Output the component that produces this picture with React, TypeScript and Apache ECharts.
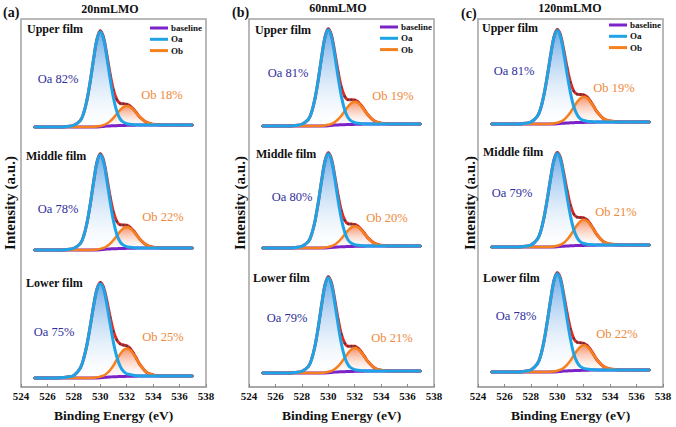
import React, { useEffect, useRef } from "react";
import * as echarts from "echarts";

// ---------- data ----------
const energy = [525, 526, 527, 527.5, 528, 528.5, 528.75, 529, 529.25, 529.5, 529.75, 530, 530.25, 530.5, 530.75, 531, 531.25, 531.5, 531.75, 532, 532.25, 532.5, 532.75, 533, 533.5, 534, 534.5, 535, 536, 537];

const panelTitles = ["20nmLMO", "60nmLMO", "120nmLMO"];
const panelTags = ["(a)", "(b)", "(c)"];
const filmNames = ["Upper film", "Middle film", "Lower film"];
const legendNames = ["baseline", "Oa", "Ob"];
const oaPercent = [[82, 78, 75], [81, 80, 79], [81, 79, 78]];
const obPercent = [[18, 22, 25], [19, 20, 21], [19, 21, 22]];

// component heights above background (envelope peak ≈ 100)
const aUpperOa = [0, 0, 0, 0.6, 1.8, 6.9, 14.7, 28.4, 48, 70.6, 90.2, 98, 90.2, 70.6, 48, 28.4, 14.7, 6.9, 3.4, 1.8, 1, 0.6, 0.3, 0, 0, 0, 0, 0, 0, 0];
const aUpperOb = [0, 0, 0, 0, 0, 0, 0, 0, 0, 0.2, 0.4, 0.8, 1.3, 2.7, 5, 8.2, 12.2, 16, 18.9, 20, 18.9, 16, 12.2, 8.2, 2.7, 0.8, 0.2, 0, 0, 0];
const aMiddleOa = [0, 0, 0, 0.6, 1.8, 6.9, 14.7, 28.4, 48, 70.6, 90.2, 98, 90.2, 70.6, 48, 28.4, 14.7, 6.9, 3.4, 1.8, 1, 0.6, 0.3, 0, 0, 0, 0, 0, 0, 0];
const aMiddleOb = [0, 0, 0, 0, 0, 0, 0, 0, 0, 0.2, 0.4, 0.9, 1.5, 3, 5.5, 9, 13.4, 17.6, 20.8, 22, 20.8, 17.6, 13.4, 9, 3, 0.9, 0.2, 0, 0, 0];
const aLowerOa = [0, 0, 0.2, 1, 2.7, 10.8, 20.6, 35.3, 54.9, 75.5, 92.1, 98, 92.1, 75.5, 54.9, 35.3, 20.6, 10.8, 5.4, 2.7, 1.8, 1, 0.5, 0, 0, 0, 0, 0, 0, 0];
const aLowerOb = [0, 0, 0, 0, 0, 0, 0, 0, 0, 0.3, 0.6, 1.2, 1.9, 3.9, 7.3, 11.9, 17.7, 23.2, 27.4, 29, 27.4, 23.2, 17.7, 11.9, 3.9, 1.2, 0.3, 0, 0, 0];
const bUpperOa = [0, 0, 0, 0.6, 1.8, 6.9, 14.7, 28.4, 48, 70.6, 90.2, 98, 90.2, 70.6, 48, 28.4, 14.7, 6.9, 3.4, 1.8, 1, 0.6, 0.3, 0, 0, 0, 0, 0, 0, 0];
const bUpperOb = [0, 0, 0, 0, 0, 0, 0, 0, 0, 0.2, 0.5, 0.9, 1.5, 3.1, 5.8, 9.4, 14, 18.4, 21.8, 23, 21.8, 18.4, 14, 9.4, 3.1, 0.9, 0.2, 0, 0, 0];
const bMiddleOa = [0, 0, 0, 0.6, 1.8, 6.9, 14.7, 28.4, 48, 70.6, 90.2, 98, 90.2, 70.6, 48, 28.4, 14.7, 6.9, 3.4, 1.8, 1, 0.6, 0.3, 0, 0, 0, 0, 0, 0, 0];
const bMiddleOb = [0, 0, 0, 0, 0, 0, 0, 0, 0, 0.2, 0.4, 0.8, 1.4, 2.8, 5.3, 8.6, 12.8, 16.8, 19.9, 21, 19.9, 16.8, 12.8, 8.6, 2.8, 0.8, 0.2, 0, 0, 0];
const bLowerOa = [0, 0, 0, 0.6, 1.8, 6.9, 14.7, 28.4, 48, 70.6, 90.2, 98, 90.2, 70.6, 48, 28.4, 14.7, 6.9, 3.4, 1.8, 1, 0.6, 0.3, 0, 0, 0, 0, 0, 0, 0];
const bLowerOb = [0, 0, 0, 0, 0, 0, 0, 0, 0, 0.2, 0.5, 1, 1.6, 3.2, 6, 9.8, 14.6, 19.2, 22.7, 24, 22.7, 19.2, 14.6, 9.8, 3.2, 1, 0.2, 0, 0, 0];
const cUpperOa = [0, 0, 0, 0.7, 2, 8.3, 16.7, 31.4, 51, 72.5, 91.1, 98, 91.1, 72.5, 51, 31.4, 16.7, 8.3, 3.9, 2, 1.2, 0.7, 0.3, 0, 0, 0, 0, 0, 0, 0];
const cUpperOb = [0, 0, 0, 0, 0, 0, 0, 0, 0, 0.3, 0.5, 1.1, 1.8, 3.6, 6.8, 11.1, 16.5, 21.6, 25.5, 27, 25.5, 21.6, 16.5, 11.1, 3.6, 1.1, 0.3, 0, 0, 0];
const cMiddleOa = [0, 0, 0, 0.7, 2, 8.3, 16.7, 31.4, 51, 72.5, 91.1, 98, 91.1, 72.5, 51, 31.4, 16.7, 8.3, 3.9, 2, 1.2, 0.7, 0.3, 0, 0, 0, 0, 0, 0, 0];
const cMiddleOb = [0, 0, 0, 0, 0, 0, 0, 0, 0, 0.3, 0.5, 1.1, 1.8, 3.6, 6.8, 11.1, 16.5, 21.6, 25.5, 27, 25.5, 21.6, 16.5, 11.1, 3.6, 1.1, 0.3, 0, 0, 0];
const cLowerOa = [0, 0, 0, 0.7, 2, 8.3, 16.7, 31.4, 51, 72.5, 91.1, 98, 91.1, 72.5, 51, 31.4, 16.7, 8.3, 3.9, 2, 1.2, 0.7, 0.3, 0, 0, 0, 0, 0, 0, 0];
const cLowerOb = [0, 0, 0, 0, 0, 0, 0, 0, 0, 0.3, 0.5, 1, 1.7, 3.4, 6.3, 10.3, 15.3, 20, 23.7, 25, 23.7, 20, 15.3, 10.3, 3.4, 1, 0.3, 0, 0, 0];
const shirleyBg = [0, 0, 0, 0, 0, 0, 0, 0, 0, 0, 0.1, 0.3, 0.6, 0.9, 1.1, 1.3, 1.4, 1.5, 1.6, 1.7, 1.8, 1.9, 1.95, 2, 2, 2, 2, 2, 2, 2];

const spectra = [
  [[aUpperOa, aUpperOb], [aMiddleOa, aMiddleOb], [aLowerOa, aLowerOb]],
  [[bUpperOa, bUpperOb], [bMiddleOa, bMiddleOb], [bLowerOa, bLowerOb]],
  [[cUpperOa, cUpperOb], [cMiddleOa, cMiddleOb], [cLowerOa, cLowerOb]],
];

// ---------- layout ----------
const FONT = "Liberation Serif, Times New Roman, serif";
const panelLeft = [21, 249, 478];
const panelWidth = 185;
const panelTop = 19;
const panelHeight = 369;
const specRect = [
  [[30, 97], [153, 97], [282, 96]],
  [[28, 98], [152, 96], [276, 97]],
  [[29, 95], [152, 95], [272, 100]],
];
const oaPos = [[[58, 79], [58, 209], [54, 332]], [[288, 73], [292, 197], [287, 318]], [[514, 71], [512, 193], [516, 316]]];
const obPos = [[[162, 95], [163, 217], [163, 337]], [[393, 96], [387, 218], [392, 338]], [[614, 88], [616, 212], [617, 334]]];
const filmPos = [[[27, 29], [26, 156], [26, 283]], [[255, 30], [256, 154], [253, 278]], [[482, 28], [483, 152], [483, 278]]];
const legendPos = [[150, 28], [380, 27], [609, 25]];
const titlePos = [[110, 9], [338, 8], [570, 8]];
const tagPos = [[3, 12], [232, 12], [461, 13]];
const yNameX = [10, 240, 470];

const C_BASE = "#7b22c8";
const C_OA = "#1ea3e6";
const C_OB = "#f5801e";
const C_ENV = "#e8281e";

function pairs(vals: number[]) {
  return energy.map((e, i) => [e, vals[i]]);
}

export default function App() {
  const ref = useRef<HTMLDivElement>(null);
  useEffect(() => {
    if (!ref.current) return;
    const chart = echarts.init(ref.current, undefined, { renderer: "svg" });
    const grids: any[] = [];
    const xAxes: any[] = [];
    const yAxes: any[] = [];
    const series: any[] = [];
    const graphics: any[] = [];

    for (let p = 0; p < 3; p++) {
      grids.push({
        left: panelLeft[p], top: panelTop, width: panelWidth, height: panelHeight,
        show: true, borderColor: "#a3a3a3", borderWidth: 1.5, containLabel: false,
      });
      xAxes.push({
        gridIndex: p, type: "value", min: 524, max: 538, interval: 2,
        axisLine: { show: true, lineStyle: { color: "#a3a3a3", width: 1.5 } },
        axisTick: { show: true, inside: true, length: 3, lineStyle: { color: "#888" } },
        axisLabel: { fontFamily: FONT, fontWeight: "bold", fontSize: 11, color: "#111", margin: 3 },
        splitLine: { show: false },
        name: "Binding Energy (eV)", nameLocation: "middle", nameGap: 21,
        nameTextStyle: { fontFamily: FONT, fontWeight: "bold", fontSize: 13.5, color: "#111" },
      });
      yAxes.push({ gridIndex: p, show: false, min: 0, max: 1 });
    }

    for (let p = 0; p < 3; p++) {
      for (let r = 0; r < 3; r++) {
        const gi = grids.length;
        const [top, h] = specRect[p][r];
        grids.push({ left: panelLeft[p], top, width: panelWidth, height: h, show: false });
        xAxes.push({ gridIndex: gi, type: "value", min: 524, max: 538, show: false });
        yAxes.push({ gridIndex: gi, type: "value", min: 0, max: 100, show: false });
        const [oa, ob] = spectra[p][r];
        const oaLine = oa.map((v, i) => v + shirleyBg[i]);
        const obLine = ob.map((v, i) => v + shirleyBg[i]);
        const env = oa.map((v, i) => v + ob[i] + shirleyBg[i]);
        const common = { xAxisIndex: gi, yAxisIndex: gi, symbol: "none", smooth: 0.35, clip: false, silent: true };
        series.push({
          ...common, type: "line", name: "Oa fill", data: pairs(oaLine), z: 1,
          lineStyle: { width: 0 },
          areaStyle: {
            color: new echarts.graphic.LinearGradient(0, 0, 0, 1, [
              { offset: 0, color: "rgba(40,130,220,0.95)" },
              { offset: 1, color: "rgba(255,255,255,0.2)" },
            ]),
          },
        });
        series.push({
          ...common, type: "line", name: "Ob fill", data: pairs(obLine), z: 2,
          lineStyle: { width: 0 },
          areaStyle: {
            color: new echarts.graphic.LinearGradient(0, 0, 0, 1, [
              { offset: 0, color: "rgba(240,88,28,0.95)" },
              { offset: 1, color: "rgba(255,255,255,0.2)" },
            ]),
          },
        });
        series.push({ ...common, type: "line", name: "envelope", data: pairs(env), z: 3, lineStyle: { color: C_ENV, width: 3 } });
        series.push({
          type: "scatter", xAxisIndex: gi, yAxisIndex: gi, name: "data", data: pairs(env), z: 4, silent: true,
          symbolSize: 2.5, itemStyle: { color: "#3a3a50" },
        });
        series.push({ ...common, type: "line", name: "baseline", data: pairs(shirleyBg), z: 5, lineStyle: { color: C_BASE, width: 3 } });
        series.push({ ...common, type: "line", name: "Ob", data: pairs(obLine), z: 6, lineStyle: { color: C_OB, width: 2.5 } });
        series.push({ ...common, type: "line", name: "Oa", data: pairs(oaLine), z: 7, lineStyle: { color: C_OA, width: 3 } });

        graphics.push({
          type: "text", x: filmPos[p][r][0], y: filmPos[p][r][1], z: 100,
          style: { text: filmNames[r], fontFamily: FONT, fontWeight: "bold", fontSize: 12, fill: "#111", textAlign: "left", textVerticalAlign: "middle" },
        });
        graphics.push({
          type: "text", x: oaPos[p][r][0], y: oaPos[p][r][1], z: 100,
          style: { text: `Oa ${oaPercent[p][r]}%`, fontFamily: FONT, fontSize: 12.5, fill: "#2f2f9c", textAlign: "center", textVerticalAlign: "middle" },
        });
        graphics.push({
          type: "text", x: obPos[p][r][0], y: obPos[p][r][1], z: 100,
          style: { text: `Ob ${obPercent[p][r]}%`, fontFamily: FONT, fontSize: 12.5, fill: "#f0883a", textAlign: "center", textVerticalAlign: "middle" },
        });
      }

      graphics.push({
        type: "text", x: titlePos[p][0], y: titlePos[p][1], z: 100,
        style: { text: panelTitles[p], fontFamily: FONT, fontWeight: "bold", fontSize: 12, fill: "#111", textAlign: "center", textVerticalAlign: "middle" },
      });
      graphics.push({
        type: "text", x: tagPos[p][0], y: tagPos[p][1], z: 100,
        style: { text: panelTags[p], fontFamily: FONT, fontWeight: "bold", fontSize: 14, fill: "#111", textAlign: "left", textVerticalAlign: "middle" },
      });
      graphics.push({
        type: "text", x: yNameX[p], y: 203, rotation: Math.PI / 2, z: 100,
        style: { text: "Intensity (a.u.)", fontFamily: FONT, fontWeight: "bold", fontSize: 15, fill: "#111", textAlign: "center", textVerticalAlign: "middle" },
      });
      const legendColors = [C_BASE, C_OA, C_OB];
      for (let k = 0; k < 3; k++) {
        const lx = legendPos[p][0];
        const ly = legendPos[p][1] + k * 11.3;
        graphics.push({
          type: "line", z: 100, shape: { x1: lx, y1: ly, x2: lx + 18, y2: ly },
          style: { stroke: legendColors[k], lineWidth: 3 },
        });
        graphics.push({
          type: "text", x: lx + 21, y: ly, z: 100,
          style: { text: legendNames[k], fontFamily: FONT, fontWeight: "bold", fontSize: 9, fill: "#111", textAlign: "left", textVerticalAlign: "middle" },
        });
      }
    }

    chart.setOption({
      animation: false,
      backgroundColor: "#ffffff",
      grid: grids,
      xAxis: xAxes,
      yAxis: yAxes,
      series,
      graphic: graphics,
    });
    return () => chart.dispose();
  }, []);
  return <div ref={ref} style={{ position: "absolute", left: 0, top: 0, width: 676, height: 427 }} />;
}
